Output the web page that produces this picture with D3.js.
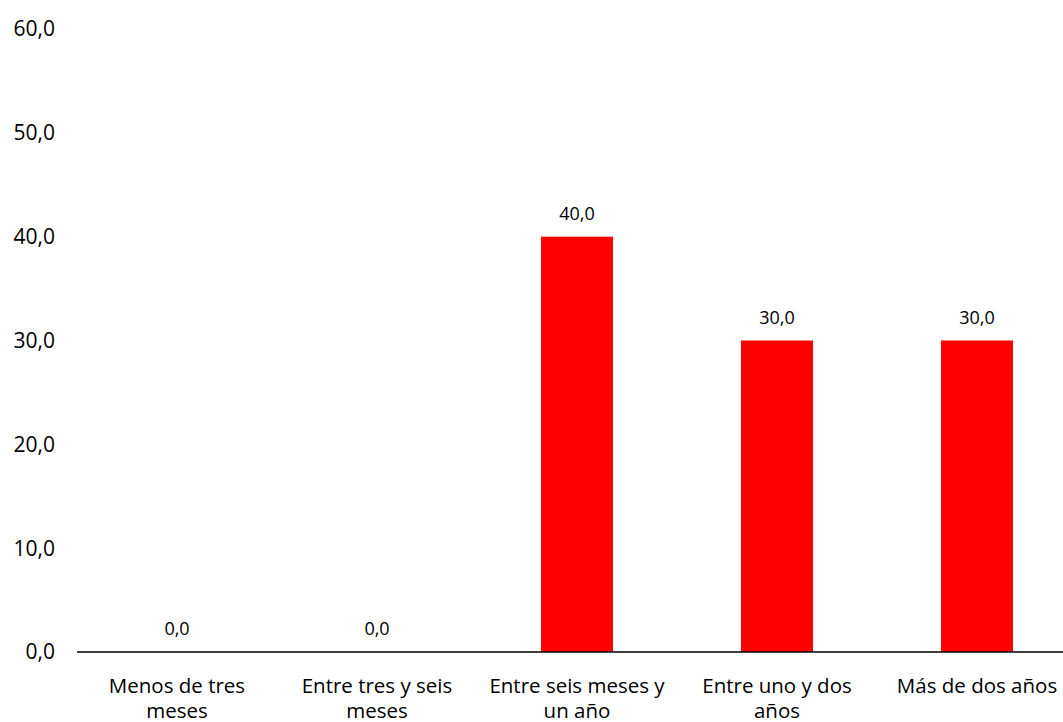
<!DOCTYPE html>
<html><head><meta charset="utf-8">
<script src="https://cdn.jsdelivr.net/npm/d3@7"></script>
<style>body{margin:0;background:#fff;} text{font-family:"Open Sans","Noto Sans",sans-serif;fill:#000;}</style>
</head><body><svg id="c" width="1063" height="722"></svg>
<script>
const categories = [["Menos de tres","meses"],["Entre tres y seis","meses"],["Entre seis meses y","un año"],["Entre uno y dos","años"],["Más de dos años"]];
const values = [0.0, 0.0, 40.0, 30.0, 30.0];
const yTicks = [0, 10, 20, 30, 40, 50, 60];

const svg = d3.select("#c");
const fmt = v => d3.format(".1f")(v).replace(".", ",");
const x = d3.scaleBand().domain(d3.range(categories.length)).range([77, 1077]).paddingInner(0.64).paddingOuter(0.32);
const y = d3.scaleLinear().domain([0, 60]).range([652, 29]);

// y tick labels
svg.append("g").selectAll("text").data(yTicks).join("text")
  .attr("x", 55).attr("y", d => y(d)).attr("dy", "0.35em").attr("text-anchor", "end")
  .style("font-size", "21px").text(d => fmt(d));

// bars
svg.append("g").selectAll("rect").data(values).join("rect")
  .attr("x", (d, i) => x(i)).attr("width", x.bandwidth())
  .attr("y", d => y(d)).attr("height", d => y(0) - y(d)).attr("fill", "#ff0000");

// data labels
svg.append("g").selectAll("text").data(values).join("text")
  .attr("x", (d, i) => x(i) + x.bandwidth() / 2).attr("y", d => y(d) - 17)
  .attr("text-anchor", "middle").style("font-size", "18px").text(d => fmt(d));

// x axis line
svg.append("line").attr("x1", 77).attr("x2", 1063).attr("y1", y(0)).attr("y2", y(0))
  .attr("stroke", "#000").attr("stroke-width", 1.5);

// category labels
const cg = svg.append("g").selectAll("text").data(categories).join("text")
  .attr("text-anchor", "middle").style("font-size", "20.5px");
cg.each(function(d, i) {
  const t = d3.select(this);
  d.forEach((line, j) => t.append("tspan").attr("x", x(i) + x.bandwidth() / 2).attr("y", 693 + j * 25).text(line));
});
</script></body></html>
